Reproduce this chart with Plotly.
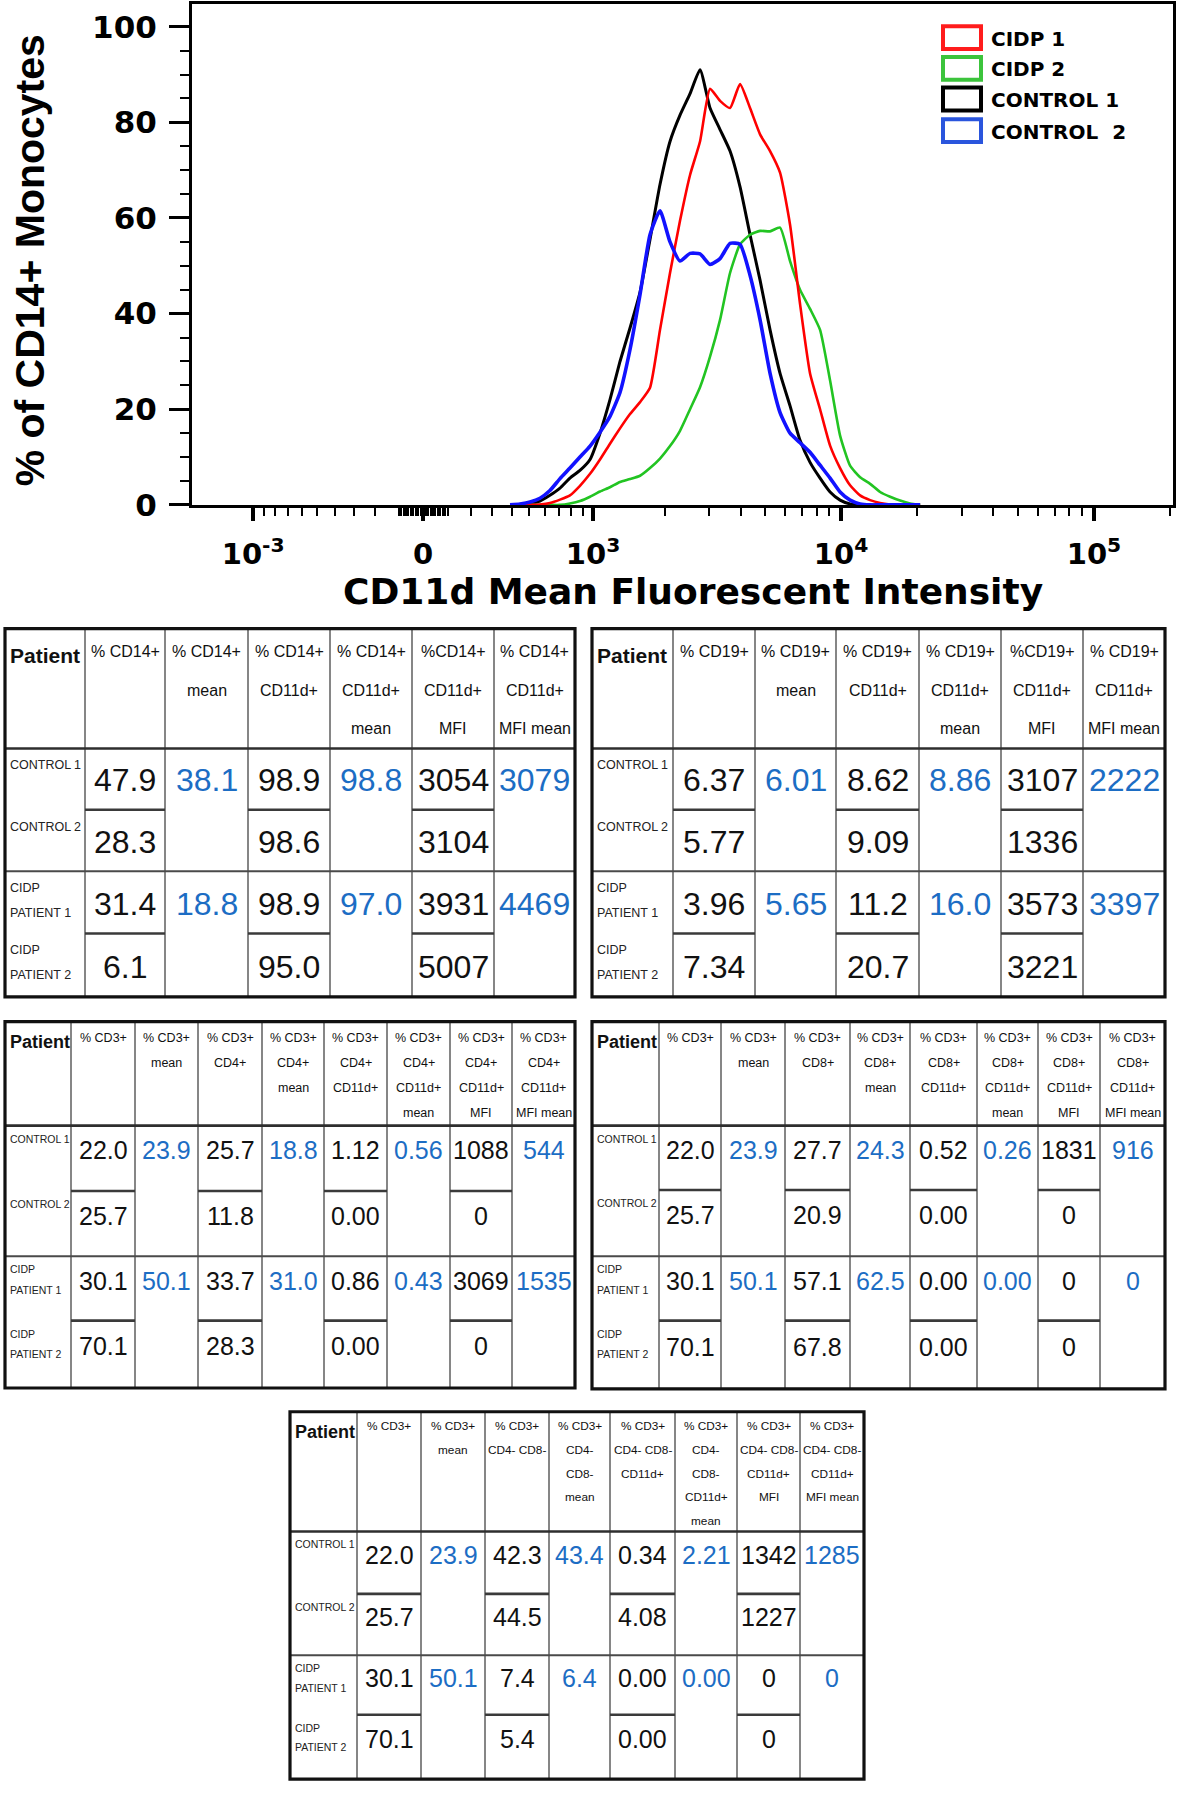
import numpy as np
import plotly.graph_objects as go

# ---------------- histogram data (CD11d MFI vs % of CD14+ monocytes) ----------------
mfi = [391, 446, 506, 569, 637, 711, 790, 876, 970, 1071, 1181, 1301, 1432, 1575,
       1730, 1900, 2086, 2289, 2512, 2754, 3020, 3311, 3629, 3978, 4359, 4777, 5234,
       5734, 6282, 6883, 7539, 8260, 9049, 9912, 10857, 11894, 13028, 14271, 15632,
       17122, 18755, 20544]
cidp_1 = [0, 0, 0, 0.1, 0.4, 1.1, 2, 4, 6.5, 9.5, 12.8, 16, 19, 21.5, 24.5, 36.6, 48.5,
          59.4, 69, 76, 87, 84.5, 83, 88, 83, 77.5, 74, 69.5, 58.6, 42, 27.5, 20, 12.4,
          7.7, 4.1, 2, 1, 0.4, 0.1, 0, 0, 0]
cidp_2 = [0, 0, 0, 0, 0, 0, 0.3, 0.8, 1.7, 2.8, 3.7, 4.8, 5.4, 6.1, 7.7, 9.7, 12.3, 15.5,
          20, 24.6, 31, 38.7, 48.5, 54.5, 56.5, 57.3, 57.2, 58, 51, 45, 41, 36.6, 26,
          14.5, 8.2, 5.8, 4.4, 2.7, 1.7, 0.9, 0.3, 0]
control_1 = [0, 0.1, 0.3, 0.8, 2, 3.5, 5.6, 7.2, 9.5, 15, 22, 30, 37, 44.5, 55.5, 67, 76,
             81.5, 86, 91, 83, 78.5, 74, 66.5, 56.5, 47, 36.6, 27.5, 20.7, 13.5, 8.9, 5.6,
             2.7, 1, 0.2, 0, 0, 0, 0, 0, 0, 0]
control_2 = [0, 0.2, 0.6, 1.4, 3, 5.5, 7.7, 10, 12.3, 15.2, 18.5, 23.5, 32.5, 44, 56.5,
             61.5, 55, 51, 52.6, 52.5, 50.3, 51.5, 54.7, 54.5, 48, 38.7, 27.5, 19.3, 15, 13,
             11, 8.3, 5.6, 2.7, 1, 0.2, 0, 0, 0, 0, 0, 0]

series_names = ["CIDP 1", "CIDP 2", "CONTROL 1", "CONTROL\u00a0 2"]
series_values = [cidp_1, cidp_2, control_1, control_2]
line_colors = ["#ff0000", "#22c422", "#000000", "#1212ff"]
box_colors = ["#ff1c1c", "#3cc43c", "#000000", "#2a55dd"]
line_widths = [2.6, 2.6, 3.0, 3.6]
draw_order = [2, 1, 0, 3]

x_major_vals = [-1000, 0, 1000, 10000, 100000]
x_major_text = ["10<sup>-3</sup>", "0", "10<sup>3</sup>", "10<sup>4</sup>", "10<sup>5</sup>"]
y_major_vals = [0, 20, 40, 60, 80, 100]

# ---------------- table data ----------------
patients = ["CONTROL 1", "CONTROL 2", "CIDP\nPATIENT 1", "CIDP\nPATIENT 2"]

t1_headers = ["Patient", "% CD14+", "% CD14+\nmean", "% CD14+\nCD11d+", "% CD14+\nCD11d+\nmean",
              "%CD14+\nCD11d+\nMFI", "% CD14+\nCD11d+\nMFI mean"]
t1_cd14 = ["47.9", "28.3", "31.4", "6.1"]
t1_cd14_mean = ["38.1", "18.8"]
t1_cd11d = ["98.9", "98.6", "98.9", "95.0"]
t1_cd11d_mean = ["98.8", "97.0"]
t1_mfi = ["3054", "3104", "3931", "5007"]
t1_mfi_mean = ["3079", "4469"]

t2_headers = ["Patient", "% CD19+", "% CD19+\nmean", "% CD19+\nCD11d+", "% CD19+\nCD11d+\nmean",
              "%CD19+\nCD11d+\nMFI", "% CD19+\nCD11d+\nMFI mean"]
t2_cd19 = ["6.37", "5.77", "3.96", "7.34"]
t2_cd19_mean = ["6.01", "5.65"]
t2_cd11d = ["8.62", "9.09", "11.2", "20.7"]
t2_cd11d_mean = ["8.86", "16.0"]
t2_mfi = ["3107", "1336", "3573", "3221"]
t2_mfi_mean = ["2222", "3397"]

t3_headers = ["Patient", "% CD3+", "% CD3+\nmean", "% CD3+\nCD4+", "% CD3+\nCD4+\nmean",
              "% CD3+\nCD4+\nCD11d+", "% CD3+\nCD4+\nCD11d+\nmean", "% CD3+\nCD4+\nCD11d+\nMFI",
              "% CD3+\nCD4+\nCD11d+\nMFI mean"]
t3_cd3 = ["22.0", "25.7", "30.1", "70.1"]
t3_cd3_mean = ["23.9", "50.1"]
t3_cd4 = ["25.7", "11.8", "33.7", "28.3"]
t3_cd4_mean = ["18.8", "31.0"]
t3_cd11d = ["1.12", "0.00", "0.86", "0.00"]
t3_cd11d_mean = ["0.56", "0.43"]
t3_mfi = ["1088", "0", "3069", "0"]
t3_mfi_mean = ["544", "1535"]

t4_headers = ["Patient", "% CD3+", "% CD3+\nmean", "% CD3+\nCD8+", "% CD3+\nCD8+\nmean",
              "% CD3+\nCD8+\nCD11d+", "% CD3+\nCD8+\nCD11d+\nmean", "% CD3+\nCD8+\nCD11d+\nMFI",
              "% CD3+\nCD8+\nCD11d+\nMFI mean"]
t4_cd3 = ["22.0", "25.7", "30.1", "70.1"]
t4_cd3_mean = ["23.9", "50.1"]
t4_cd8 = ["27.7", "20.9", "57.1", "67.8"]
t4_cd8_mean = ["24.3", "62.5"]
t4_cd11d = ["0.52", "0.00", "0.00", "0.00"]
t4_cd11d_mean = ["0.26", "0.00"]
t4_mfi = ["1831", "0", "0", "0"]
t4_mfi_mean = ["916", "0"]

t5_headers = ["Patient", "% CD3+", "% CD3+\nmean", "% CD3+\nCD4- CD8-", "% CD3+\nCD4-\nCD8-\nmean",
              "% CD3+\nCD4- CD8-\nCD11d+", "% CD3+\nCD4-\nCD8-\nCD11d+\nmean",
              "% CD3+\nCD4- CD8-\nCD11d+\nMFI", "% CD3+\nCD4- CD8-\nCD11d+\nMFI mean"]
t5_cd3 = ["22.0", "25.7", "30.1", "70.1"]
t5_cd3_mean = ["23.9", "50.1"]
t5_dn = ["42.3", "44.5", "7.4", "5.4"]
t5_dn_mean = ["43.4", "6.4"]
t5_cd11d = ["0.34", "4.08", "0.00", "0.00"]
t5_cd11d_mean = ["2.21", "0.00"]
t5_mfi = ["1342", "1227", "0", "0"]
t5_mfi_mean = ["1285", "0"]

# ---------------- styling / helpers ----------------
W_LOG = 223.0


def logicle(v):
    v = np.asarray(v, dtype=float)
    return np.log10(W_LOG) + np.arcsinh(v / (2 * W_LOG)) / np.log(10)


NARROW = "Liberation Sans, Arial, sans-serif"
WIDE = "DejaVu Sans, Verdana, sans-serif"
BLUE_TXT = "#1c6dc4"
FIG_W, FIG_H = 1178, 1800

fig = go.Figure()
for i in draw_order:
    fig.add_trace(go.Scatter(
        x=logicle(mfi), y=series_values[i], mode="lines", name=series_names[i],
        line=dict(color=line_colors[i], width=line_widths[i], shape="spline", smoothing=0.5),
        cliponaxis=False, hoverinfo="skip", showlegend=False))

# invisible trace to create the overlay (layout) axes used for the tables / legend
fig.add_trace(go.Scatter(x=[0], y=[0], xaxis="x2", yaxis="y2", mode="markers",
                         marker=dict(opacity=0), hoverinfo="skip", showlegend=False))

minor_vals = ([-k * 100 for k in range(1, 10)] + [-k * 10 for k in range(1, 10)] +
              [k * 10 for k in range(1, 10)] + [k * 100 for k in range(1, 10)] +
              [k * 1000 for k in range(2, 10)] + [k * 10000 for k in range(2, 10)] + [200000])

shapes = []
anns = []

# axis titles
anns.append(dict(x=30, y=263, xref="x2", yref="y2", text="% of CD14+ Monocytes", textangle=-90,
                 showarrow=False, font=dict(family=NARROW, size=41, color="black", weight="bold"),
                 xanchor="center", yanchor="middle"))
anns.append(dict(x=693, y=597, xref="x2", yref="y2", text="CD11d Mean Fluorescent Intensity",
                 showarrow=False, font=dict(family=WIDE, size=36, color="black", weight="bold"),
                 xanchor="center", yanchor="middle"))

# legend (outlined boxes + labels)
leg_y = [38, 69, 100, 132]
for k in range(4):
    shapes.append(dict(type="rect", xref="x2", yref="y2", x0=943, x1=981,
                       y0=leg_y[k] - 11.5, y1=leg_y[k] + 11.5,
                       line=dict(color=box_colors[k], width=4), fillcolor="rgba(0,0,0,0)"))
    anns.append(dict(x=989, y=leg_y[k] + 1, xref="x2", yref="y2", text=series_names[k],
                     showarrow=False, xanchor="left", yanchor="middle",
                     font=dict(family=WIDE, size=20, color="black", weight="bold")))


def draw_table(col_edges, row_edges, headers, columns, cfg):
    x0, x1 = col_edges[0], col_edges[-1]
    y0, y1 = row_edges[0], row_edges[-1]

    def hline(y, xa, xb, w, c):
        shapes.append(dict(type="line", xref="x2", yref="y2", x0=xa, x1=xb, y0=y, y1=y,
                           line=dict(color=c, width=w)))

    for xe in col_edges[1:-1]:
        shapes.append(dict(type="line", xref="x2", yref="y2", x0=xe, x1=xe, y0=y0, y1=y1,
                           line=dict(color="#5e5e5e", width=1.5)))
    hline(row_edges[1], x0, x1, 2.6, "#2e2e2e")
    hline(row_edges[3], x0, x1, 2.0, "#4a4a4a")
    for j, vals in enumerate(columns, start=1):
        if len(vals) == 4:
            for ye in (row_edges[2], row_edges[4]):
                hline(ye, col_edges[j], col_edges[j + 1], 2.6, "#3a3a3a")
    shapes.append(dict(type="rect", xref="x2", yref="y2", x0=x0, x1=x1, y0=y0, y1=y1,
                       line=dict(color="#111111", width=3.2), fillcolor="rgba(0,0,0,0)"))

    # header
    anns.append(dict(x=x0 + 3, y=y0 + cfg["pat_off"], xref="x2", yref="y2", text=headers[0],
                     showarrow=False, xanchor="left", yanchor="middle",
                     font=dict(family=NARROW, size=cfg["pat_font"], color="#111", weight="bold")))
    for j in range(1, len(headers)):
        xc = (col_edges[j] + col_edges[j + 1]) / 2
        for li, line in enumerate(headers[j].split("\n")):
            anns.append(dict(x=xc, y=y0 + cfg["head_off"] + li * cfg["head_pitch"], xref="x2",
                             yref="y2", text=line, showarrow=False, xanchor="center",
                             yanchor="middle",
                             font=dict(family=NARROW, size=cfg["head_font"], color="#111")))
    # body
    bands = [(row_edges[1], row_edges[2]), (row_edges[2], row_edges[3]),
             (row_edges[3], row_edges[4]), (row_edges[4], row_edges[5])]
    for r, (ta, tb) in enumerate(bands):
        for li, line in enumerate(patients[r].split("\n")):
            anns.append(dict(x=x0 + 3, y=ta + cfg["lab_off"] + li * cfg["lab_pitch"], xref="x2",
                             yref="y2", text=line, showarrow=False, xanchor="left",
                             yanchor="middle",
                             font=dict(family=NARROW, size=cfg["lab_font"], color="#222")))
    for j, vals in enumerate(columns, start=1):
        xc = (col_edges[j] + col_edges[j + 1]) / 2
        if len(vals) == 4:
            rows_idx, color = [0, 1, 2, 3], "#111"
        else:
            rows_idx, color = [0, 2], BLUE_TXT
        for v, r in zip(vals, rows_idx):
            ta, tb = bands[r]
            anns.append(dict(x=xc, y=ta + cfg["val_frac"] * (tb - ta), xref="x2", yref="y2",
                             text=v, showarrow=False, xanchor="center", yanchor="middle",
                             font=dict(family=NARROW, size=cfg["val_font"], color=color)))


cfg_big = dict(head_font=16, head_off=23, head_pitch=39, pat_font=21, pat_off=27,
               lab_font=12.5, lab_off=17, lab_pitch=25, val_font=32, val_frac=0.52)
cfg_mid = dict(head_font=12.5, head_off=16, head_pitch=25.3, pat_font=18, pat_off=21,
               lab_font=10.5, lab_off=13, lab_pitch=21, val_font=25, val_frac=0.38)
cfg_low = dict(head_font=11.8, head_off=14, head_pitch=24.2, pat_font=18, pat_off=20,
               lab_font=10.5, lab_off=13, lab_pitch=20, val_font=25, val_frac=0.38)

draw_table([5, 85, 165, 248, 330, 412, 494, 575], [635, 756, 818, 880, 943, 1007], t1_headers,
           [t1_cd14, t1_cd14_mean, t1_cd11d, t1_cd11d_mean, t1_mfi, t1_mfi_mean], cfg_big)
draw_table([592, 673, 755, 836, 919, 1001, 1083, 1165], [635, 756, 818, 880, 943, 1007], t2_headers,
           [t2_cd19, t2_cd19_mean, t2_cd11d, t2_cd11d_mean, t2_mfi, t2_mfi_mean], cfg_big)
draw_table([5, 71, 135, 198, 262, 324, 387, 450, 512, 575], [1032, 1137, 1203, 1269, 1334, 1402],
           t3_headers, [t3_cd3, t3_cd3_mean, t3_cd4, t3_cd4_mean, t3_cd11d, t3_cd11d_mean,
                        t3_mfi, t3_mfi_mean], cfg_mid)
draw_table([592, 659, 721, 785, 850, 910, 977, 1038, 1100, 1165], [1032, 1137, 1202, 1269, 1334, 1403],
           t4_headers, [t4_cd3, t4_cd3_mean, t4_cd8, t4_cd8_mean, t4_cd11d, t4_cd11d_mean,
                        t4_mfi, t4_mfi_mean], cfg_mid)
draw_table([290, 357, 421, 485, 549, 610, 675, 737, 800, 864], [1426, 1547, 1610, 1672, 1732, 1797],
           t5_headers, [t5_cd3, t5_cd3_mean, t5_dn, t5_dn_mean, t5_cd11d, t5_cd11d_mean,
                        t5_mfi, t5_mfi_mean], cfg_low)

fig.update_layout(
    width=FIG_W, height=FIG_H, autosize=False,
    margin=dict(l=0, r=0, t=0, b=0),
    paper_bgcolor="white", plot_bgcolor="rgba(0,0,0,0)",
    showlegend=False,
    xaxis=dict(domain=[192 / FIG_W, 1173 / FIG_W], range=[1.4348, 5.3123], anchor="y",
               tickmode="array", tickvals=logicle(x_major_vals), ticktext=x_major_text,
               ticks="outside", ticklen=13, tickwidth=3.5, tickcolor="black",
               ticklabelstandoff=8,
               minor=dict(tickmode="array", tickvals=logicle(minor_vals), ticks="outside",
                          ticklen=8, tickwidth=2, tickcolor="black", showgrid=False),
               tickfont=dict(family=WIDE, size=29, color="black", weight="bold"),
               showline=True, linecolor="black", linewidth=3, mirror=True,
               showgrid=False, zeroline=False, fixedrange=True),
    yaxis=dict(domain=[1 - 510 / FIG_H, 1 - 4 / FIG_H], range=[0, 104.76], anchor="x",
               tickmode="array", tickvals=y_major_vals,
               ticks="outside", ticklen=20, tickwidth=3, tickcolor="black",
               ticklabelstandoff=6,
               minor=dict(dtick=5, tick0=0, ticks="outside", ticklen=9, tickwidth=2,
                          tickcolor="black", showgrid=False),
               tickfont=dict(family=WIDE, size=31, color="black", weight="bold"),
               showline=True, linecolor="black", linewidth=3, mirror=True,
               showgrid=False, zeroline=False, fixedrange=True),
    xaxis2=dict(domain=[0, 1], range=[0, FIG_W], anchor="y2", visible=False, fixedrange=True),
    yaxis2=dict(domain=[0, 1], range=[FIG_H, 0], anchor="x2", visible=False, fixedrange=True),
    shapes=shapes,
    annotations=anns,
)

fig.write_html(
    "out.html",
    config={"displayModeBar": False, "staticPlot": True},
    post_script="document.body.style.margin='0px';document.body.style.padding='0px';"
                "document.body.style.overflow='hidden';",
)
